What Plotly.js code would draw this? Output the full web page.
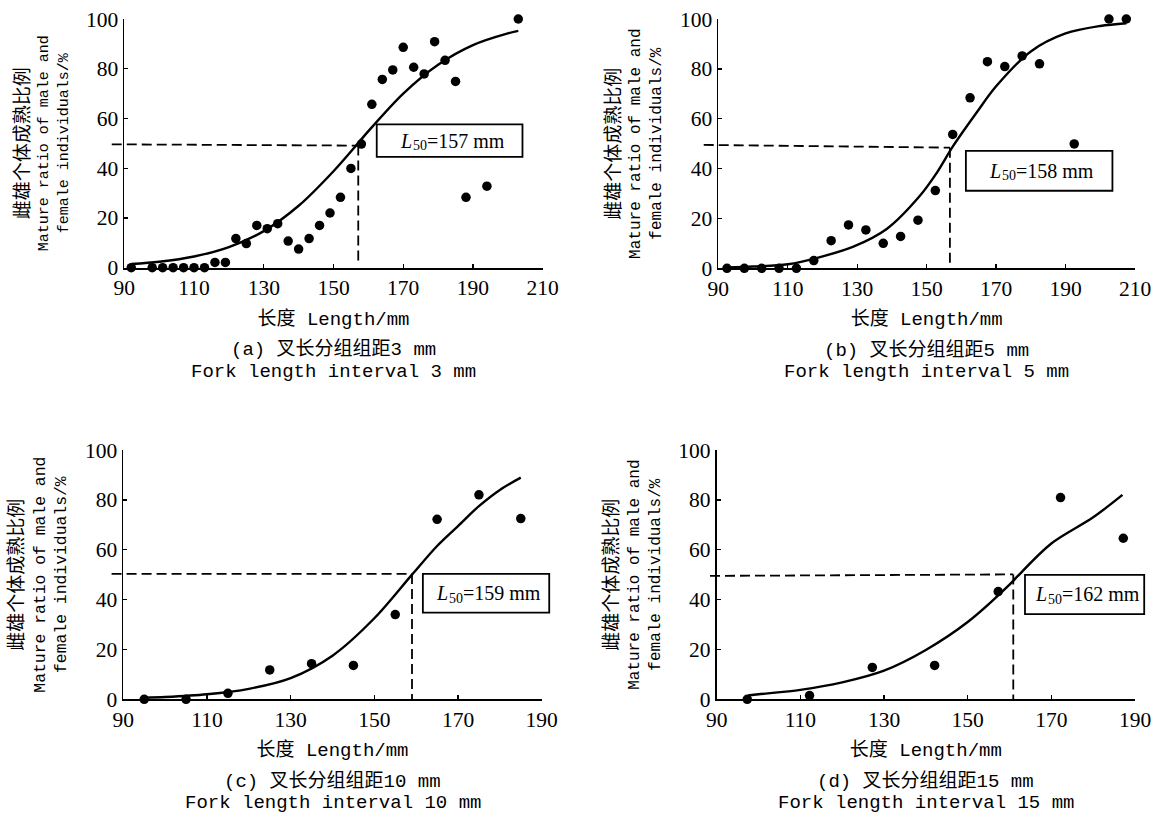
<!DOCTYPE html>
<html>
<head>
<meta charset="utf-8">
<script src="https://cdn.plot.ly/plotly-3.0.1.min.js"></script>
<style>html,body{margin:0;padding:0;background:#fff;}#chart{width:1160px;height:814px;}</style>
</head>
<body>
<div id="chart"></div>
<script>
// ---------- data ----------
// (a) interval 3 mm
const lenA   = [92,98,101,104,107,110,113,116,119,122,125,128,131,134,137,140,143,146,149,152,155,158,161,164,167,170,173,176,179,182,185,188,194,203];
const ratioA = [0,0,0,0,0,0,0,2.1,2.1,11.7,9.7,17.0,15.7,17.7,10.7,7.5,11.7,17.0,22.0,28.3,39.9,49.7,65.7,75.7,79.5,88.6,80.6,77.9,90.9,83.4,74.9,28.3,32.8,100];
const fitLenA   = [92,100,110,120,130,140,150,157,160,170,180,190,200,203];
const fitRatioA = [1.5,2.4,4.5,8.3,14.7,24.9,38.8,50,54.9,70.0,81.6,89.5,94.2,95.2];
// (b) interval 5 mm
const lenB   = [92.5,97.5,102.5,107.5,112.5,117.5,122.5,127.5,132.5,137.5,142.5,147.5,152.5,157.5,162.5,167.5,172.5,177.5,182.5,192.5,202.5,207.5];
const ratioB = [0,0,0,0,0,3.1,11.1,17.4,15.4,10.0,12.8,19.3,31.2,53.7,68.4,82.9,80.9,85.2,82.0,49.9,100,100];
const fitLenB   = [92.5,100,110,119.3,128.9,138.5,148,153,157.6,164.4,170,180,190,200,207.5];
const fitRatioB = [0.3,0.7,1.6,4.5,8.7,15.8,29,38.5,49,62.5,73,87,94.2,97.2,98.3];
// (c) interval 10 mm
const lenC   = [95,105,115,125,135,145,155,165,175,185];
const ratioC = [0,0,2.4,11.8,14.3,13.6,34.0,72.2,82.0,72.5];
const fitLenC   = [95,100,110,120,130,140,150,159,165,170,175,180,185];
const fitRatioC = [0.6,0.9,2.0,4.2,8.5,17.5,32.5,50,61.5,69.5,77.5,84,88.9];
// (d) interval 15 mm
const lenD   = [97.3,112.2,127.2,142.1,157.3,172.2,187.2];
const ratioD = [0,1.5,12.8,13.6,43.2,80.9,64.6];
const fitLenD   = [97.5,100,110,120,130,140,150,160,162,170,180,187];
const fitRatioD = [1.5,2.0,3.8,6.8,11.5,19.8,31,46,49.5,62.5,73,82];

// L50 values and the dashed guide lines
const l50Values   = [157, 158, 159, 162];
const guideStartX = [86.4, 85.8, 87.2, 88.4];
const guideStartY = [49.6, 49.5, 50.3, 49.5];
const guideEndX   = [157.1, 156.7, 159.0, 160.9];
const guideEndY   = [49.1, 48.4, 50.3, 50.1];
const guideBottomY = [2.8, 0.7, 0, 0];
// L50 label box corners (data units)
const boxX0 = [162.4, 161.3, 161.6, 163.7];
const boxX1 = [204.2, 203.5, 191.8, 192.2];
const boxY0 = [44.6, 31.1, 34.8, 34.2];
const boxY1 = [57.6, 47.1, 50.3, 49.9];

const panelLetters = ['a','b','c','d'];
const intervals    = [3, 5, 10, 15];
const xRanges = [[90,210],[90,210],[90,190],[90,190]];
const yRange = [0,100];

const xTitle = '长度 Length/mm';
const yTitleCn = '雌雄个体成熟比例';
const yTitleEn1 = 'Mature ratio of male and';
const yTitleEn2 = 'female individuals/%';

// ---------- layout geometry (pixels) ----------
const W = 1160, H = 814;
const plotBoxes = [ // [left, right, top, bottom] px
  [124.3, 542.7, 19, 267.7],
  [718.3, 1135, 19, 268.3],
  [123.3, 541.7, 450, 699.3],
  [716.7, 1135, 450, 699.3]
];
const yTitleSize = [15, 16, 16.4, 16];

const serif = 'Liberation Serif, Times New Roman, serif';
const mono = 'Liberation Mono, Noto Sans CJK SC, monospace';
const cnFont = 'Noto Sans CJK SC';
const labelSize = 20, subSize = 14;

const lens = [lenA, lenB, lenC, lenD];
const ratios = [ratioA, ratioB, ratioC, ratioD];
const fitLens = [fitLenA, fitLenB, fitLenC, fitLenD];
const fitRatios = [fitRatioA, fitRatioB, fitRatioC, fitRatioD];

const traces = [];
const layout = {
  width: W, height: H,
  margin: {l:0, r:0, t:0, b:0},
  paper_bgcolor: '#fff', plot_bgcolor: 'rgba(0,0,0,0)',
  showlegend: false,
  shapes: [], annotations: []
};

const px2x = v => v / W;
const px2y = v => 1 - v / H;

for (let i = 0; i < 4; i++) {
  const sfx = i === 0 ? '' : String(i + 1);
  const xa = 'x' + sfx, ya = 'y' + sfx;
  const [l, r, t, b] = plotBoxes[i];
  layout['xaxis' + sfx] = {
    domain: [px2x(l), px2x(r)], anchor: ya, range: xRanges[i],
    tick0: 90, dtick: 20, ticks: 'inside', ticklen: 4, tickwidth: 1.4, tickcolor: '#000',
    showline: true, linewidth: 1.8, linecolor: '#000', showgrid: false, zeroline: false,
    tickfont: {family: serif, size: 21.5, color: '#000'}, fixedrange: true,
    title: {text: xTitle, font: {family: mono, size: 19, color: '#000'}, standoff: 12}
  };
  layout['yaxis' + sfx] = {
    domain: [px2y(b), px2y(t)], anchor: xa, range: yRange,
    tick0: 0, dtick: 20, ticks: 'inside', ticklen: 4, tickwidth: 1.4, tickcolor: '#000',
    showline: true, linewidth: 1.8, linecolor: '#000', showgrid: false, zeroline: false,
    tickfont: {family: serif, size: 21.5, color: '#000'}, fixedrange: true,
    title: {
      text: '<span style="font-family:' + cnFont + ';font-size:19px">' + yTitleCn + '</span><br>' + yTitleEn1 + '<br>' + yTitleEn2,
      font: {family: mono, size: yTitleSize[i], color: '#000'}, standoff: 14
    }
  };

  // fitted logistic curve
  traces.push({
    type: 'scatter', mode: 'lines', x: fitLens[i], y: fitRatios[i], xaxis: xa, yaxis: ya,
    line: {color: '#000', width: 2.4, shape: 'spline', smoothing: 0.9}, hoverinfo: 'skip'
  });
  // observed points
  traces.push({
    type: 'scatter', mode: 'markers', x: lens[i], y: ratios[i], xaxis: xa, yaxis: ya,
    marker: {color: '#000', size: 9.5}, cliponaxis: false
  });

  // dashed guide lines
  const xr = xRanges[i];
  const dx = v => (v - xr[0]) / (xr[1] - xr[0]);
  const dy = v => (v - yRange[0]) / (yRange[1] - yRange[0]);
  const dashLine = {color: '#000', width: 1.8, dash: '10px,5px'};
  layout.shapes.push({
    type: 'line', xref: xa + ' domain', yref: ya + ' domain',
    x0: dx(guideStartX[i]), y0: dy(guideStartY[i]), x1: dx(guideEndX[i]), y1: dy(guideEndY[i]),
    line: dashLine
  });
  layout.shapes.push({
    type: 'line', xref: xa + ' domain', yref: ya + ' domain',
    x0: dx(guideEndX[i]), y0: dy(guideEndY[i]), x1: dx(guideEndX[i]), y1: dy(guideBottomY[i]),
    line: dashLine
  });

  // L50 box (frame + three text pieces: italic L, subscript 50, "=xxx mm")
  layout.shapes.push({
    type: 'rect', xref: xa + ' domain', yref: ya + ' domain',
    x0: dx(boxX0[i]), x1: dx(boxX1[i]), y0: dy(boxY0[i]), y1: dy(boxY1[i]),
    line: {color: '#000', width: 1.8}, fillcolor: '#fff', layer: 'above'
  });
  const bcx = (boxX0[i] + boxX1[i]) / 2, bcy = (boxY0[i] + boxY1[i]) / 2;
  const restText = '=' + l50Values[i] + ' mm';
  const wL = labelSize * 0.611, wSub = subSize * 0.5 * 2;
  const wRest = labelSize * (0.564 + 0.5 * String(l50Values[i]).length + 0.25 + 0.778 * 2);
  const startPx = -(wL + wSub + wRest) / 2;
  const piece = (text, shift, yshift, size, style) => ({
    xref: xa, yref: ya, x: bcx, y: bcy, xanchor: 'left', yanchor: 'middle',
    xshift: shift, yshift: yshift, text: text, showarrow: false,
    font: {family: serif, size: size, color: '#000', style: style}
  });
  layout.annotations.push(piece('L', startPx, 0, labelSize, 'italic'));
  layout.annotations.push(piece('50', startPx + wL + 0.5, -5, subSize, 'normal'));
  layout.annotations.push(piece(restText, startPx + wL + wSub + 0.5, 0, labelSize, 'normal'));

  // captions
  const cx = px2x((l + r) / 2);
  layout.annotations.push({
    xref: 'paper', yref: 'paper', x: cx, y: px2y(b + 82), xanchor: 'center', yanchor: 'middle',
    text: '(' + panelLetters[i] + ') 叉长分组组距' + intervals[i] + ' mm', showarrow: false,
    font: {family: mono, size: 19, color: '#000'}
  });
  layout.annotations.push({
    xref: 'paper', yref: 'paper', x: cx, y: px2y(b + 104), xanchor: 'center', yanchor: 'middle',
    text: 'Fork length interval ' + intervals[i] + ' mm', showarrow: false,
    font: {family: mono, size: 19, color: '#000'}
  });
}

Plotly.newPlot('chart', traces, layout, {displayModeBar: false, staticPlot: true});
</script>
</body>
</html>
